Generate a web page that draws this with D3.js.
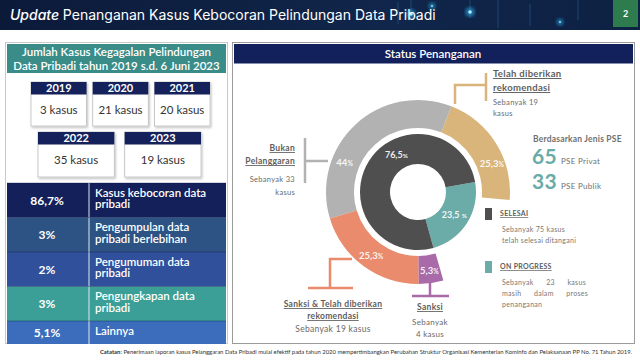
<!DOCTYPE html>
<html>
<head>
<meta charset="utf-8">
<script src="https://cdn.jsdelivr.net/npm/d3@7"></script>
<style>
  body { margin: 0; background: #fff; }
  svg { display: block; }
</style>
</head>
<body>
<div id="chart"></div>
<script>
// data
const years = ["2019", "2020", "2021", "2022", "2023"];
const yearCases = [3, 21, 20, 35, 19];
const categoryPct = ["86,7%", "3%", "2%", "3%", "5,1%"];
const categoryLabels = [
  ["Kasus kebocoran data", "pribadi"],
  ["Pengumpulan data", "pribadi berlebihan"],
  ["Pengumuman data", "pribadi"],
  ["Pengungkapan data", "pribadi"],
  ["Lainnya"]
];
const outcomeNames = ["Telah diberikan rekomendasi", "Bukan Pelanggaran", "Sanksi & Telah diberikan rekomendasi", "Sanksi"];
const outcomeCases = [19, 33, 19, 4];
const outcomePct = ["25,3", "44", "25,3", "5,3"];
const statusNames = ["ON PROGRESS", "SELESAI"];
const statusCases = [23, 75];
const statusPct = ["23,5 ", "76,5"];
const pseTypes = ["PSE Privat", "PSE Publik"];
const pseCases = [65, 33];

const width = 640, height = 360;
const font = "Lato, 'Noto Sans', sans-serif";

const svg = d3.select("#chart").append("svg")
  .attr("width", width)
  .attr("height", height)
  .style("font-family", font);

const defs = svg.append("defs");
const grad = defs.append("linearGradient").attr("id", "titleGrad");
grad.append("stop").attr("offset", "0%").attr("stop-color", "#0c1a3a");
grad.append("stop").attr("offset", "60%").attr("stop-color", "#10264a");
grad.append("stop").attr("offset", "100%").attr("stop-color", "#0d2143");
const shadow = defs.append("filter").attr("id", "shadow").attr("x", "-20%").attr("y", "-20%").attr("width", "140%").attr("height", "140%");
shadow.append("feDropShadow").attr("dx", 1).attr("dy", 1.5).attr("stdDeviation", 1.2).attr("flood-color", "#000").attr("flood-opacity", 0.25);
const glow = defs.append("filter").attr("id", "glow");
glow.append("feGaussianBlur").attr("stdDeviation", 1.5);

// ---- title bar
svg.append("rect").attr("x", 0).attr("y", 0).attr("width", width).attr("height", 30).attr("fill", "url(#titleGrad)");
// circuit-ish decoration
const deco = svg.append("g").attr("stroke", "#2f7fb0").attr("stroke-opacity", 0.5);
[[398, 2, 24], [411, 0, 14], [470, 0, 18], [498, 0, 28], [530, 4, 26], [578, 0, 20]].forEach(d => {
  deco.append("line").attr("x1", d[0]).attr("x2", d[0]).attr("y1", d[1]).attr("y2", d[2]).attr("stroke-width", 0.8);
});
[[411, 14, 3], [470, 12, 3], [432, 6, 1.5], [560, 22, 1.5]].forEach(d => {
  svg.append("circle").attr("cx", d[0]).attr("cy", d[1]).attr("r", d[2] + 2).attr("fill", "#29b6f6").attr("opacity", 0.5).attr("filter", "url(#glow)");
  svg.append("circle").attr("cx", d[0]).attr("cy", d[1]).attr("r", d[2] * 0.6).attr("fill", "#b3ecff");
});
const title = svg.append("text").attr("x", 10).attr("y", 20)
  .attr("fill", "#fff").attr("font-size", 14).attr("font-family", "Inter, Lato, sans-serif");
title.append("tspan").attr("font-style", "italic").attr("font-weight", 500).text("Update ");
title.append("tspan").text("Penanganan Kasus Kebocoran Pelindungan Data Pribadi");
svg.append("rect").attr("x", 613).attr("y", 0).attr("width", 25).attr("height", 27).attr("fill", "#2e7b4e");
svg.append("text").attr("x", 625.5).attr("y", 17).attr("text-anchor", "middle")
  .attr("fill", "#fff").attr("font-size", 9).attr("font-weight", 700).text("2");

// ---- left panel
svg.append("rect").attr("x", 5.5).attr("y", 42.5).attr("width", 222).attr("height", 301)
  .attr("fill", "#fff").attr("stroke", "#c9c9c9");
svg.append("rect").attr("x", 7).attr("y", 44).attr("width", 219).attr("height", 29).attr("fill", "#3a8c89");
svg.append("text").attr("x", 116.5).attr("y", 56).attr("text-anchor", "middle")
  .attr("fill", "#fff").attr("font-size", 11.5).attr("font-weight", 600)
  .text("Jumlah Kasus Kegagalan Pelindungan");
svg.append("text").attr("x", 116.5).attr("y", 69.5).attr("text-anchor", "middle")
  .attr("fill", "#fff").attr("font-size", 11.5).attr("font-weight", 600)
  .text("Data Pribadi tahun 2019 s.d. 6 Juni 2023");

const yearRows = [
  { keys: years.slice(0, 3), range: [31, 210], pad: 0.1, top: 82, bottom: 126 },
  { keys: years.slice(3), range: [38, 201], pad: 0.12, top: 132, bottom: 177 }
];
yearRows.forEach(row => {
  const x = d3.scaleBand().domain(row.keys).range(row.range).paddingInner(row.pad);
  const g = svg.append("g").selectAll("g").data(row.keys).join("g");
  g.append("rect")
    .attr("x", d => x(d)).attr("y", row.top)
    .attr("width", x.bandwidth()).attr("height", row.bottom - row.top)
    .attr("fill", "#fff").attr("stroke", "#bdbdbd").attr("stroke-width", 0.8)
    .attr("filter", "url(#shadow)");
  g.append("rect")
    .attr("x", d => x(d)).attr("y", row.top)
    .attr("width", x.bandwidth()).attr("height", 12.5)
    .attr("fill", "#14215a");
  g.append("text")
    .attr("x", d => x(d) + x.bandwidth() / 2).attr("y", row.top + 10)
    .attr("text-anchor", "middle").attr("fill", "#fff")
    .attr("font-size", 11).attr("font-weight", 700)
    .text(d => d);
  g.append("text")
    .attr("x", d => x(d) + x.bandwidth() / 2).attr("y", row.top + 32)
    .attr("text-anchor", "middle").attr("fill", "#333")
    .attr("font-size", 11.5)
    .text(d => yearCases[years.indexOf(d)] + " kasus");
});

// category table: row height grows with the number of label lines
const rowColors = ["#13205a", "#2c5383", "#30509c", "#3b9f97", "#3c6dbd"];
let acc = 0;
const rowUnits = categoryLabels.map(l => { const s = acc; acc += l.length + 1; return [s, acc]; });
const ty = d3.scaleLinear().domain([0, acc]).range([183, 344]);
const rows = svg.append("g").selectAll("g").data(categoryPct).join("g");
rows.append("rect")
  .attr("x", 7).attr("width", 219)
  .attr("y", (d, i) => ty(rowUnits[i][0]))
  .attr("height", (d, i) => ty(rowUnits[i][1]) - ty(rowUnits[i][0]))
  .attr("fill", (d, i) => rowColors[i]);
rows.append("line")
  .attr("x1", 89).attr("x2", 89)
  .attr("y1", (d, i) => ty(rowUnits[i][0]))
  .attr("y2", (d, i) => ty(rowUnits[i][1]))
  .attr("stroke", "#dfe6f2").attr("stroke-width", 1);
rows.append("line")
  .attr("x1", 7).attr("x2", 226)
  .attr("y1", (d, i) => ty(rowUnits[i][0])).attr("y2", (d, i) => ty(rowUnits[i][0]))
  .attr("stroke", "#0c1540").attr("stroke-opacity", 0.35);
rows.append("text")
  .attr("x", 47)
  .attr("y", (d, i) => (ty(rowUnits[i][0]) + ty(rowUnits[i][1])) / 2 + 4.5)
  .attr("text-anchor", "middle").attr("fill", "#fff")
  .attr("font-size", 12).attr("font-weight", 700)
  .text(d => d);
rows.each(function (d, i) {
  categoryLabels[i].forEach((line, j) => {
    d3.select(this).append("text")
      .attr("x", 95).attr("y", ty(rowUnits[i][0]) + 13.5 + j * 11.5)
      .attr("fill", "#fff").attr("font-size", 11.5).attr("font-weight", 600)
      .text(line);
  });
});

// ---- right panel
svg.append("rect").attr("x", 232.5).attr("y", 42.5).attr("width", 402).attr("height", 301)
  .attr("fill", "#fff").attr("stroke", "#9a9a9a");
svg.append("rect").attr("x", 234).attr("y", 44).attr("width", 399).attr("height", 19.5).attr("fill", "#12205c");
svg.append("text").attr("x", 433).attr("y", 57.5).attr("text-anchor", "middle")
  .attr("fill", "#fff").attr("font-size", 11.5).attr("font-weight", 600).text("Status Penanganan");

const cx = 418, cy = 192;
const donut = svg.append("g").attr("transform", `translate(${cx},${cy})`);
const deg = Math.PI / 180;

const outerColors = ["#d9b57b", "#b2b2b2", "#e98b6c", "#a86aa9"];
const outerPie = d3.pie().sort(null).value(d => d)
  .startAngle(95 * deg).endAngle(-196 * deg)(outcomeCases);
const outerArc = d3.arc().innerRadius(64).outerRadius(92);
donut.selectAll(".outer").data(outerPie).join("path")
  .attr("class", "outer")
  .attr("d", outerArc)
  .attr("fill", (d, i) => outerColors[i]);

const innerColors = ["#6caca8", "#4f4f4f"];
const innerPie = d3.pie().sort(null).value(d => d)
  .startAngle(80 * deg).endAngle(440 * deg)(statusCases);
const innerArc = d3.arc().innerRadius(28).outerRadius(58);
donut.selectAll(".inner").data(innerPie).join("path")
  .attr("class", "inner")
  .attr("d", innerArc)
  .attr("fill", (d, i) => innerColors[i]);

function pctLabel(g, pos, num, size) {
  const t = g.append("text").attr("x", pos[0]).attr("y", pos[1] + 3.5)
    .attr("text-anchor", "middle").attr("fill", "#fff").attr("fill-opacity", 0.92)
    .attr("font-size", size).attr("font-weight", 700);
  t.append("tspan").text(num);
  t.append("tspan").attr("font-size", size * 0.7).text("%");
}
const outerFrac = [0.35, 0.7, 0.5, 0.5];
outerPie.forEach((d, i) => {
  const a = d.startAngle + (d.endAngle - d.startAngle) * outerFrac[i];
  pctLabel(donut, [Math.sin(a) * 79, -Math.cos(a) * 79], outcomePct[i], 9.5);
});
const innerFrac = [0.5, 0.6];
innerPie.forEach((d, i) => {
  const a = d.startAngle + (d.endAngle - d.startAngle) * innerFrac[i];
  pctLabel(donut, [Math.sin(a) * 43, -Math.cos(a) * 43], statusPct[i], 9);
});

// callout brackets
const grey = "#6a6a6a";
const call = svg.append("g").attr("fill", "none").attr("stroke-width", 2.5);
call.append("path").attr("d", "M455,104 V85 H486").attr("stroke", outerColors[0]);
call.append("path").attr("d", "M486,73 V101").attr("stroke", outerColors[0]);
call.append("path").attr("d", "M328,161 H305").attr("stroke", outerColors[1]);
call.append("path").attr("d", "M305,138 V183").attr("stroke", outerColors[1]);
call.append("path").attr("d", "M352,259 H330 V288").attr("stroke", outerColors[2]);
call.append("path").attr("d", "M308,288 H353").attr("stroke", outerColors[2]);
call.append("path").attr("d", "M430,283 V295").attr("stroke", outerColors[3]);
call.append("path").attr("d", "M412,296 H449").attr("stroke", outerColors[3]);

function txt(x, y, s, opt) {
  opt = opt || {};
  return svg.append("text").attr("x", x).attr("y", y)
    .attr("text-anchor", opt.anchor || "start")
    .attr("fill", opt.color || grey)
    .attr("font-size", opt.size || 7.5)
    .attr("font-weight", opt.bold ? 700 : 400)
    .style("text-decoration", opt.u ? "underline" : null)
    .attr("letter-spacing", opt.ls || 0.3)
    .text(s);
}
// Telah diberikan rekomendasi
txt(493, 77, "Telah diberikan", { bold: true, size: 9.5, u: true, color: "#5e5e5e" });
txt(493, 91, "rekomendasi", { bold: true, size: 9.5, u: true, color: "#5e5e5e" });
txt(493, 105, "Sebanyak " + outcomeCases[0], { size: 7.5 });
txt(493, 116, "kasus", { size: 7.5 });
// Bukan Pelanggaran
txt(295, 151, "Bukan", { bold: true, size: 8.5, u: true, anchor: "end", color: "#5e5e5e" });
txt(295, 164, "Pelanggaran", { bold: true, size: 8.5, u: true, anchor: "end", color: "#5e5e5e" });
txt(295, 182, "Sebanyak " + outcomeCases[1], { size: 7.5, anchor: "end" });
txt(295, 195, "kasus", { size: 7.5, anchor: "end" });
// Sanksi & Telah diberikan rekomendasi
txt(333, 307, "Sanksi & Telah diberikan", { bold: true, size: 8.5, u: true, anchor: "middle", color: "#5e5e5e" });
txt(333, 319, "rekomendasi", { bold: true, size: 8.5, u: true, anchor: "middle", color: "#5e5e5e" });
txt(333, 332, "Sebanyak " + outcomeCases[2] + " kasus", { size: 8.5, anchor: "middle" });
// Sanksi
txt(430, 310, "Sanksi", { bold: true, size: 8.5, u: true, anchor: "middle", color: "#5e5e5e" });
txt(430, 325, "Sebanyak", { size: 8, anchor: "middle" });
txt(430, 337, outcomeCases[3] + " kasus", { size: 8, anchor: "middle" });

// PSE
txt(533, 142, "Berdasarkan Jenis PSE", { bold: true, size: 8.5, color: "#707070", ls: 0.2 });
pseCases.forEach((v, i) => {
  txt(532, 163.5 + i * 25.5, v, { bold: true, size: 21, color: "#6aaba7", ls: 0 });
  txt(561, 163.5 + i * 25.5, pseTypes[i], { size: 8, color: "#707070" });
});

// status legend
const legend = [
  { name: statusNames[1], color: innerColors[1], y: 208, lines: ["Sebanyak " + statusCases[1] + " kasus", "telah selesai ditangani"] },
  { name: statusNames[0], color: innerColors[0], y: 261, lines: ["Sebanyak      " + statusCases[0] + "      kasus", "masih      dalam      proses", "penanganan"] }
];
legend.forEach(l => {
  svg.append("rect").attr("x", 485).attr("y", l.y).attr("width", 7).attr("height", 12).attr("fill", l.color);
  txt(500, l.y + 8, l.name, { bold: true, size: 7, u: true, color: "#5e5e5e" });
  l.lines.forEach((s, j) => txt(502, l.y + 24 + j * 11, s, { size: 7, color: "#777" }).attr("xml:space", "preserve"));
});

// footnote
const foot = svg.append("text").attr("x", 632).attr("y", 354).attr("text-anchor", "end")
  .attr("font-size", 5.9).attr("fill", "#333");
foot.append("tspan").attr("font-weight", 700).text("Catatan");
foot.append("tspan").text(": Penerimaan laporan kasus Pelanggaran Data Pribadi mulai efektif pada tahun 2020 mempertimbangkan Perubahan Struktur Organisasi Kementerian Kominfo dan Pelaksanaan  PP No. 71 Tahun 2019.");
</script>
</body>
</html>
